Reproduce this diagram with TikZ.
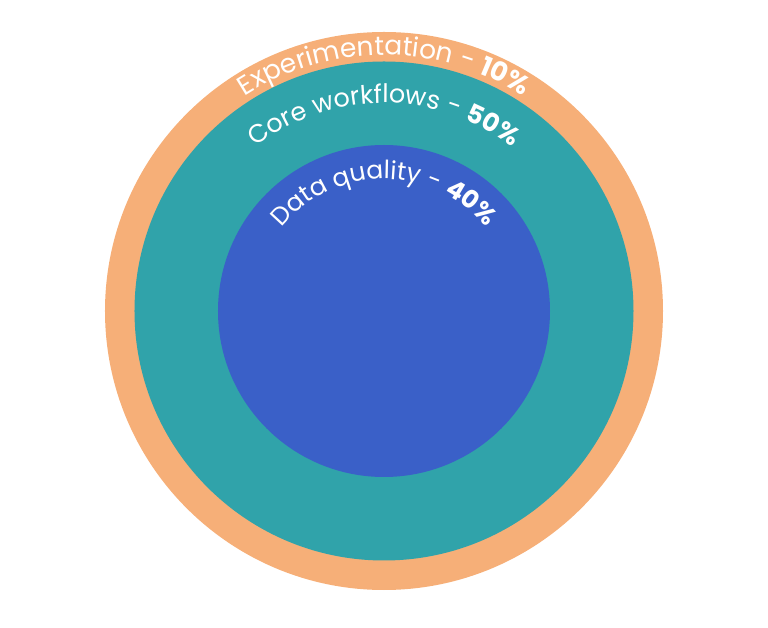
\documentclass[tikz,border=0pt]{standalone}
\usepackage{fontspec}
\setmainfont{Poppins}
\usetikzlibrary{decorations.text}
\definecolor{ringorange}{RGB}{246,175,120}
\definecolor{ringteal}{RGB}{48,163,170}
\definecolor{ringblue}{RGB}{58,96,200}
\tikzset{
  arclabel/.style={decorate, decoration={text along path, text align=center, text color=white, text={#1}}}
}
\begin{document}
\begin{tikzpicture}[x=1pt, y=1pt]
                \useasboundingbox (-384,-317) rectangle (384,311);
                % Rings
                \fill[ringorange] (0,0) circle (279);
                \fill[ringteal] (0,0) circle (249.5);
                \fill[ringblue] (0,0) circle (166);

                % Labels along the rings
                \fontsize{26.5}{30}\selectfont
                \path[arclabel={Experimentation - |\bfseries|10{\%}}]
                    (180:256) arc[start angle=180, end angle=0, radius=256];
                \fontsize{25.5}{30}\selectfont
                \path[arclabel={Core workflows - |\bfseries|50{\%}}]
                    (180:208) arc[start angle=180, end angle=0, radius=208];
                \fontsize{25}{30}\selectfont
                \path[arclabel={Data quality - |\bfseries|40{\%}}]
                    (180:132) arc[start angle=180, end angle=0, radius=132];
            \end{tikzpicture}
\end{document}
